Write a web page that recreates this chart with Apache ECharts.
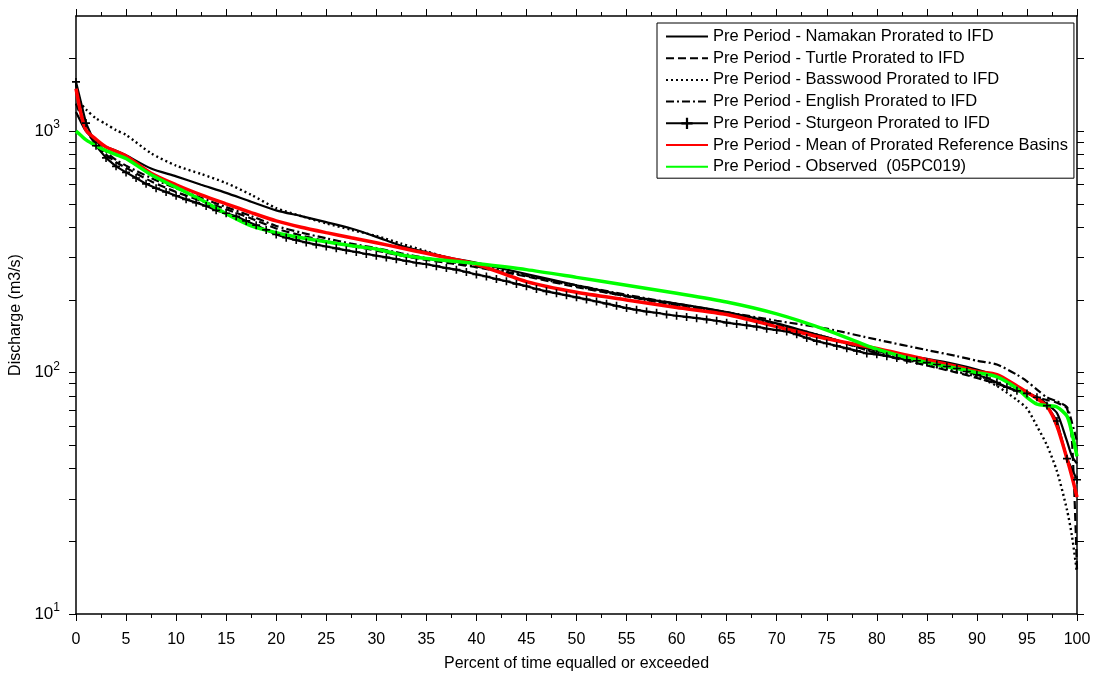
<!DOCTYPE html>
<html>
<head>
<meta charset="utf-8">
<script src="https://cdn.jsdelivr.net/npm/echarts@6/dist/echarts.min.js"></script>
<style>html,body{margin:0;padding:0;background:#fff;}#c{width:1095px;height:673px;}</style>
</head>
<body>
<div id="c"></div>
<script>
// Percent of time equalled or exceeded (shared by the six smooth curves)
var pct = [0, 0.5, 1, 2, 3, 4, 5, 7.5, 10, 12.5, 15, 17.5, 20, 22.5, 25, 27.5, 30, 32.5, 35, 37.5, 40, 45, 50, 55, 60, 65, 70, 75, 80, 85, 88, 90, 92, 94, 95, 96, 97, 98, 99, 99.5, 100];

var namakan  = [1200, 1090, 1000, 905, 860, 830, 795, 700, 650, 600, 555, 510, 470, 445, 420, 395, 365, 335, 315, 298, 285, 256, 230, 208, 193, 178, 160, 140, 123, 114, 108, 103, 97, 88, 83, 79, 74, 68, 52, 45, 42];
var turtle   = [1300, 1150, 1010, 880, 800, 745, 705, 620, 560, 515, 475, 435, 395, 370, 350, 335, 320, 305, 293, 283, 273, 250, 226, 207, 190, 174, 157, 140, 120, 107, 100, 95, 90, 84, 82, 79, 77, 75, 71, 52, 15.3];
var basswood = [1450, 1300, 1230, 1130, 1070, 1010, 965, 810, 720, 665, 610, 545, 480, 445, 415, 390, 368, 342, 318, 296, 280, 252, 228, 207, 190, 175, 158, 140, 121, 108, 101, 96, 88, 77, 71, 60, 50, 39, 27, 21, 14.8];
var english  = [1550, 1250, 1050, 900, 820, 760, 720, 640, 580, 530, 485, 445, 405, 380, 360, 342, 328, 312, 298, 287, 275, 252, 230, 210, 193, 178, 164, 152, 137, 124, 117, 112, 108, 98, 92, 85, 79, 76, 72, 62, 52];
var meanBasins = [1500, 1180, 1010, 925, 860, 825, 790, 670, 600, 545, 500, 460, 425, 400, 380, 362, 345, 328, 312, 296, 281, 238, 215, 200, 186, 174, 155, 138, 126, 113, 106, 101, 98, 88, 83, 78, 72.5, 60, 44, 37, 30.5];
var observed = [1000, 960, 920, 870, 830, 800, 770, 660, 585, 520, 455, 405, 380, 362, 348, 335, 325, 307, 297, 290, 283, 267, 248, 230, 213, 196, 175, 150, 125, 110, 104, 100, 96, 86, 79, 74, 73, 72, 66, 56, 45];

// Sturgeon is plotted with a marker at every percent
var pctSturgeon = [];
for (var k = 0; k <= 100; k++) pctSturgeon.push(k);
var sturgeon = [1600, 1080, 870, 775, 715, 675, 640, 605, 580, 560,
  540, 522, 506, 490, 470, 457, 444, 425, 408, 390,
  373, 362, 354, 346, 339, 333, 327, 321, 316, 310,
  305, 300, 295, 290, 285, 281, 276, 271, 267, 261,
  255, 250, 244, 239, 233, 228, 222, 217, 213, 209,
  205, 201, 197, 193, 189, 185, 182, 179, 177, 174,
  172, 170, 168, 166, 164, 161, 159, 157, 155, 152,
  150, 148, 144, 139, 135, 132, 129, 126, 123, 120,
  119, 117, 115, 113, 112, 110, 108, 106, 104, 101,
  98, 95, 91, 87, 84, 82, 79, 73, 63, 44, 36];

var seriesNames = [
  'Pre Period - Namakan Prorated to IFD',
  'Pre Period - Turtle Prorated to IFD',
  'Pre Period - Basswood Prorated to IFD',
  'Pre Period - English Prorated to IFD',
  'Pre Period - Sturgeon Prorated to IFD',
  'Pre Period - Mean of Prorated Reference Basins',
  'Pre Period - Observed  (05PC019)'
];

var yLabelValues = [10, 100, 1000];
var yTickValues = [10, 20, 30, 40, 50, 60, 70, 80, 90, 100, 200, 300, 400, 500, 600, 700, 800, 900, 1000, 2000];

function pairs(xs, ys) { return xs.map(function (x, i) { return [x, ys[i]]; }); }

var FONT = "Arial, 'Liberation Sans', sans-serif";
var plusPath = 'path://M-0.2,-1L0.2,-1L0.2,-0.2L1,-0.2L1,0.2L0.2,0.2L0.2,1L-0.2,1L-0.2,0.2L-1,0.2L-1,-0.2L-0.2,-0.2Z';

function lineSeries(name, data, color, width, type, extra) {
  var s = {
    name: name, type: 'line', data: data, symbol: 'none', smooth: 0.25,
    lineStyle: { color: color, width: width, type: type },
    itemStyle: { color: color },
    emphasis: { disabled: true }, animation: false, z: 3
  };
  for (var key in extra) s[key] = extra[key];
  return s;
}

var legendData = seriesNames.map(function (n, i) {
  return i === 4 ? { name: n } : { name: n, itemStyle: { opacity: 0 } };
});

var chart = echarts.init(document.getElementById('c'));
chart.setOption({
  backgroundColor: '#fff',
  animation: false,
  grid: { left: 76, right: 18, top: 16, bottom: 59, containLabel: false, outerBoundsMode: 'none' },
  legend: {
    left: 657, top: 23, orient: 'vertical',
    itemWidth: 42, itemHeight: 14, itemGap: 4.7,
    padding: [5, 6, 3, 8],
    borderColor: '#000', borderWidth: 1, backgroundColor: '#fff',
    textStyle: { fontFamily: FONT, fontSize: 16.5, color: '#000' },
    selectedMode: false,
    data: legendData
  },
  xAxis: [{
    type: 'value', min: 0, max: 100, interval: 5, position: 'bottom',
    name: 'Percent of time equalled or exceeded', nameLocation: 'middle', nameGap: 42,
    nameTextStyle: { fontFamily: FONT, fontSize: 16, color: '#000' },
    axisLine: { show: true, onZero: false, lineStyle: { color: '#000', width: 1.5 } },
    axisTick: { show: true, inside: false, length: 7, lineStyle: { color: '#000' } },
    minorTick: { show: true, splitNumber: 2, length: 4, lineStyle: { color: '#000' } },
    axisLabel: { fontFamily: FONT, fontSize: 16, color: '#000', margin: 18 },
    splitLine: { show: false }
  }, {
    type: 'value', min: 0, max: 100, interval: 5, position: 'top',
    axisLine: { show: true, onZero: false, lineStyle: { color: '#000', width: 1.5 } },
    axisTick: { show: true, inside: false, length: 7, lineStyle: { color: '#000' } },
    minorTick: { show: true, splitNumber: 2, length: 4, lineStyle: { color: '#000' } },
    axisLabel: { show: false },
    splitLine: { show: false }
  }],
  yAxis: [{
    type: 'log', logBase: 10, min: 10, max: 3000, position: 'left',
    name: 'Discharge (m3/s)', nameLocation: 'middle', nameGap: 43,
    nameTextStyle: { fontFamily: FONT, fontSize: 16, color: '#000' },
    axisLine: { show: true, onZero: false, lineStyle: { color: '#000', width: 1.5 } },
    axisTick: { show: true, inside: false, length: 7, customValues: yTickValues, lineStyle: { color: '#000' } },
    axisLabel: {
      customValues: yLabelValues, margin: 16,
      formatter: function (v) {
        var e = Math.round(Math.log(v) / Math.LN10);
        return '{b|10}{s|' + e + '}';
      },
      rich: {
        b: { fontFamily: FONT, fontSize: 17, color: '#000' },
        s: { fontFamily: FONT, fontSize: 12, color: '#000', verticalAlign: 'bottom', padding: [0, 0, 12, 0] }
      }
    },
    splitLine: { show: false }
  }, {
    type: 'log', logBase: 10, min: 10, max: 3000, position: 'right',
    axisLine: { show: true, onZero: false, lineStyle: { color: '#000', width: 1.5 } },
    axisTick: { show: true, inside: false, length: 7, customValues: yTickValues, lineStyle: { color: '#000' } },
    axisLabel: { show: false },
    splitLine: { show: false }
  }],
  series: [
    lineSeries(seriesNames[0], pairs(pct, namakan), '#000', 2.2, 'solid', {}),
    lineSeries(seriesNames[1], pairs(pct, turtle), '#000', 2.2, [8, 4], {}),
    lineSeries(seriesNames[2], pairs(pct, basswood), '#000', 2.4, [2, 3], {}),
    lineSeries(seriesNames[3], pairs(pct, english), '#000', 2.2, [8, 3, 2, 3], {}),
    lineSeries(seriesNames[4], pairs(pctSturgeon, sturgeon), '#000', 2.2, 'solid',
      { smooth: false, symbol: plusPath, symbolSize: 8, showSymbol: true }),
    lineSeries(seriesNames[5], pairs(pct, meanBasins), '#ff0000', 3.5, 'solid', {}),
    lineSeries(seriesNames[6], pairs(pct, observed), '#00ff00', 3.5, 'solid', {})
  ]
});
</script>
</body>
</html>
